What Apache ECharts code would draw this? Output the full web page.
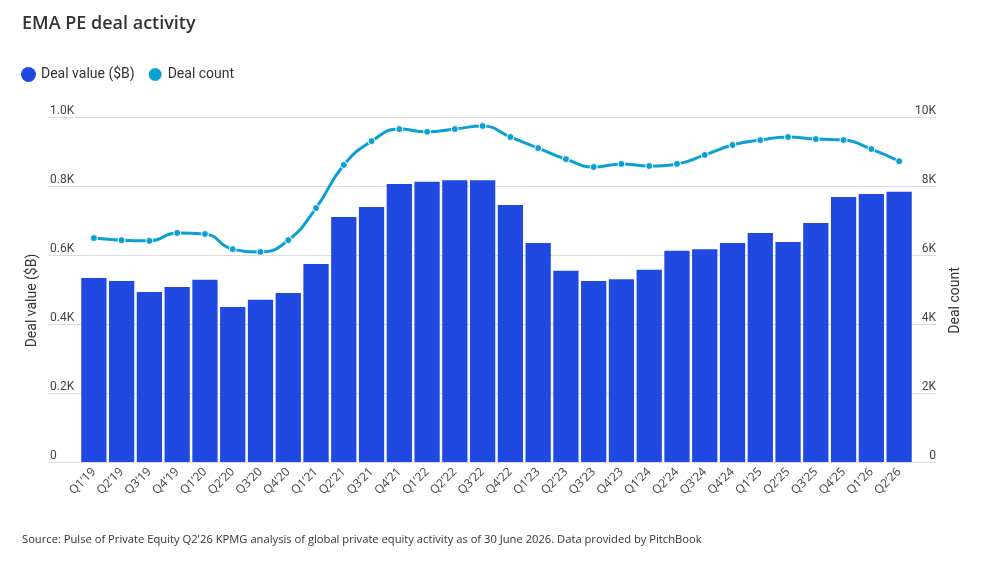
<!DOCTYPE html>
<html>
<head>
<meta charset="utf-8">
<script src="https://cdn.jsdelivr.net/npm/echarts@6/dist/echarts.min.js"></script>
<style>
  html, body { margin: 0; padding: 0; background: #fff; }
  #chart { width: 981px; height: 582px; }
</style>
</head>
<body>
<div id="chart"></div>
<script>
// quarters on the x axis
const quarters = [
    'Q1’19', 'Q2’19', 'Q3’19', 'Q4’19', 'Q1’20', 'Q2’20', 'Q3’20', 'Q4’20',
    'Q1’21', 'Q2’21', 'Q3’21', 'Q4’21', 'Q1’22', 'Q2’22', 'Q3’22', 'Q4’22',
    'Q1’23', 'Q2’23', 'Q3’23', 'Q4’23', 'Q1’24', 'Q2’24', 'Q3’24', 'Q4’24',
    'Q1’25', 'Q2’25', 'Q3’25', 'Q4’25', 'Q1’26', 'Q2’26'
];
// deal value, $B
const dealValue = [
    533, 525, 493, 507, 528, 449, 470, 490,
    574, 710, 739, 806, 812, 817, 817, 745,
    635, 554, 525, 530, 557, 612, 617, 635,
    664, 638, 693, 768, 777, 783
];
// deal count
const dealCount = [
    6490, 6430, 6410, 6640, 6610, 6170, 6090, 6430,
    7360, 8610, 9300, 9650, 9570, 9650, 9740, 9420,
    9100, 8780, 8550, 8640, 8580, 8640, 8900, 9190,
    9330, 9420, 9360, 9330, 9070, 8720
];
const valueTicks = ['0', '0.2K', '0.4K', '0.6K', '0.8K', '1.0K'];
const countTicks = ['0', '2K', '4K', '6K', '8K', '10K'];

const barColor = '#1F49E1';
const lineColor = '#0BA0D3';
const font = 'Roboto, "Open Sans", sans-serif';

var myChart = echarts.init(document.getElementById('chart'));

var option = {
    backgroundColor: '#fff',
    animation: false,
    textStyle: { fontFamily: font },
    title: {
        text: 'EMA PE deal activity',
        left: 17,
        top: 10,
        textStyle: { fontFamily: '"Open Sans", sans-serif', fontSize: 18, fontWeight: 600, color: '#333' }
    },
    legend: {
        left: 16,
        top: 61,
        icon: 'circle',
        itemWidth: 15,
        itemHeight: 15,
        itemGap: 12,
        textStyle: { fontSize: 14, color: '#333' },
        data: ['Deal value ($B)', 'Deal count']
    },
    graphic: [{
        type: 'text',
        left: 22,
        top: 534,
        style: {
            text: "Source: Pulse of Private Equity Q2'26 KPMG analysis of global private equity activity as of 30 June 2026. Data provided by PitchBook",
            font: '11.2px "Open Sans", sans-serif',
            fill: '#333'
        }
    }],
    // grid 0 carries gridlines and tick labels, grid 1 carries the marks
    grid: [
        { left: 48, right: 45, top: 117, bottom: 120 },
        { left: 80, right: 68, top: 117, bottom: 120 }
    ],
    xAxis: [
        { gridIndex: 0, type: 'value', min: 0, max: 1, show: false },
        {
            gridIndex: 1,
            type: 'category',
            data: quarters,
            axisLine: { show: false },
            axisTick: { show: false },
            axisLabel: {
                rotate: 45, fontSize: 12, color: '#444', margin: 8, interval: 0,
                fontFamily: '"Open Sans", sans-serif'
            }
        }
    ],
    yAxis: [
        {
            gridIndex: 0,
            type: 'value',
            min: 0, max: 1000, interval: 200,
            name: 'Deal value ($B)',
            nameLocation: 'middle',
            nameGap: 8,
            nameTextStyle: { fontSize: 14, color: '#333', padding: [0, 22, 0, 0] },
            axisLine: { show: false },
            axisTick: { show: false },
            splitLine: { lineStyle: { color: '#ddd', width: 1 } },
            axisLabel: {
                inside: true, margin: 2, verticalAlign: 'bottom', fontSize: 12, color: '#444',
                formatter: (v) => valueTicks[Math.round(v / 200)]
            }
        },
        {
            gridIndex: 0,
            type: 'value',
            position: 'right',
            min: 0, max: 10000, interval: 2000,
            name: 'Deal count',
            nameLocation: 'middle',
            nameGap: 12,
            nameTextStyle: { fontSize: 14, color: '#333', padding: [0, 22, 0, 0] },
            axisLine: { show: false },
            axisTick: { show: false },
            splitLine: { show: false },
            axisLabel: {
                inside: true, margin: 0, verticalAlign: 'bottom', fontSize: 12, color: '#444',
                formatter: (v) => countTicks[Math.round(v / 2000)]
            }
        },
        { gridIndex: 1, type: 'value', min: 0, max: 1000, show: false },
        { gridIndex: 1, type: 'value', min: 0, max: 10000, show: false }
    ],
    series: [
        {
            name: 'Deal value ($B)',
            type: 'bar',
            xAxisIndex: 1,
            yAxisIndex: 2,
            barCategoryGap: '9%',
            itemStyle: { color: barColor },
            data: dealValue
        },
        {
            name: 'Deal count',
            type: 'line',
            xAxisIndex: 1,
            yAxisIndex: 3,
            smooth: true,
            symbol: 'circle',
            symbolSize: 7,
            lineStyle: { color: lineColor, width: 3 },
            itemStyle: { color: lineColor, borderColor: '#fff', borderWidth: 1 },
            data: dealCount
        }
    ]
};

myChart.setOption(option);
</script>
</body>
</html>
